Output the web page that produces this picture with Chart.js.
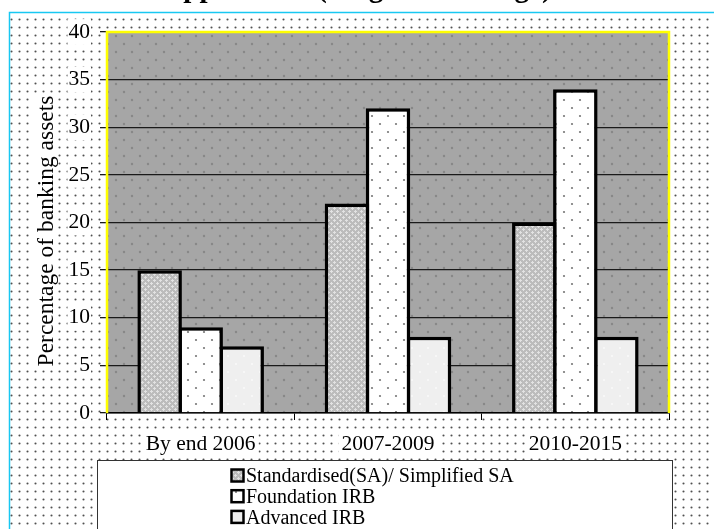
<!DOCTYPE html>
<html>
<head>
<meta charset="utf-8">
<script src="https://cdn.jsdelivr.net/npm/chart.js@4.4.1/dist/chart.umd.min.js"></script>
<style>
  html, body { margin: 0; padding: 0; background: #fff; }
  #wrap { width: 714px; height: 529px; position: relative; }
  canvas { display: block; }
</style>
</head>
<body>
<div id="wrap"><canvas id="c" width="714" height="529"></canvas></div>
<script>
// Share of banking assets under each Basel II approach, by period
const categories = ['By end 2006', '2007-2009', '2010-2015'];
const seriesNames = ['Standardised(SA)/ Simplified SA', 'Foundation IRB', 'Advanced IRB'];
const standardised = [15, 22, 20];
const foundation = [9, 32, 34];
const advanced = [7, 8, 8];
const yMin = 0, yMax = 40, yStep = 5;
const chartTitle = 'Approaches (weighted average)';
const yTitle = 'Percentage of banking assets';

const SERIF = '"Liberation Serif", "Times New Roman", serif';
const canvas = document.getElementById('c');
const ctx = canvas.getContext('2d');

// small repeating tiles used as fills
function makePattern(w, h, paint) {
  const t = document.createElement('canvas');
  t.width = w; t.height = h;
  paint(t.getContext('2d'), w, h);
  return ctx.createPattern(t, 'repeat');
}
function dot(g, x, y, r, col) {
  g.fillStyle = col; g.beginPath(); g.arc(x, y, r, 0, Math.PI * 2); g.fill();
}
const pageDots = makePattern(8, 8, (g) => {
  g.fillStyle = '#fff'; g.fillRect(0, 0, 8, 8);
  dot(g, 3.5, 3.5, 1.05, '#505050');
});
const plotDots = makePattern(16, 16, (g) => {
  g.fillStyle = '#a6a6a6'; g.fillRect(0, 0, 16, 16);
  dot(g, 4, 4, 1.2, '#888');
  dot(g, 12, 12, 1.2, '#888');
});
const saFill = makePattern(6, 6, (g) => {
  g.fillStyle = '#bcbcbc'; g.fillRect(0, 0, 6, 6);
  g.fillStyle = '#e2e2e2';
  g.fillRect(1, 0, 1, 3); g.fillRect(0, 1, 3, 1);
  g.fillRect(4, 3, 1, 3); g.fillRect(3, 4, 3, 1);
});
const foundationFill = makePattern(16, 16, (g) => {
  g.fillStyle = '#fff'; g.fillRect(0, 0, 16, 16);
  dot(g, 4, 4, 1.1, '#777');
  dot(g, 12, 12, 1.1, '#777');
});
const advancedFill = makePattern(16, 16, (g) => {
  g.fillStyle = '#efefef'; g.fillRect(0, 0, 16, 16);
  dot(g, 4, 4, 1.0, '#fafafa');
  dot(g, 12, 12, 1.0, '#fafafa');
});
const fills = [saFill, foundationFill, advancedFill];

// page backdrop, framed plot area and title
const backdrop = {
  id: 'backdrop',
  beforeDraw(chart) {
    const c = chart.ctx, a = chart.chartArea;
    c.save();
    c.fillStyle = '#fff';
    c.fillRect(0, 0, chart.width, chart.height);
    c.fillStyle = pageDots;
    c.fillRect(10, 13, chart.width - 10, chart.height - 13);
    c.strokeStyle = '#18c8f2';
    c.lineWidth = 1.5;
    c.beginPath();
    c.moveTo(9.5, chart.height); c.lineTo(9.5, 12.5); c.lineTo(chart.width, 12.5);
    c.stroke();
    c.fillStyle = plotDots;
    c.fillRect(a.left, a.top, a.right - a.left, a.bottom - a.top);
    c.fillStyle = '#000';
    c.font = 'bold 29px ' + SERIF;
    c.textAlign = 'center';
    c.textBaseline = 'alphabetic';
    c.fillText(chartTitle, chart.width / 2, -3);
    c.restore();
  },
  beforeDatasetsDraw(chart) {
    const c = chart.ctx, a = chart.chartArea;
    c.save();
    c.strokeStyle = '#ffff00';
    c.lineWidth = 2.5;
    c.beginPath();
    c.moveTo(a.left, a.bottom); c.lineTo(a.left, a.top);
    c.lineTo(a.right, a.top); c.lineTo(a.right, a.bottom);
    c.stroke();
    c.restore();
  },
  afterDraw(chart) {
    const c = chart.ctx;
    c.save();
    // vertical axis title on a white strip
    c.font = '23.5px ' + SERIF;
    const tw = c.measureText(yTitle).width;
    c.translate(46, 231);
    c.rotate(-Math.PI / 2);
    c.fillStyle = '#fff';
    c.fillRect(-tw / 2 - 2, -12, tw + 4, 24);
    c.fillStyle = '#000';
    c.textAlign = 'center';
    c.textBaseline = 'middle';
    c.fillText(yTitle, 0, 1);
    c.restore();

    // legend box listing the series vertically
    c.save();
    c.fillStyle = '#fff';
    c.fillRect(97.5, 460.5, 575, 80);
    c.strokeStyle = '#333';
    c.lineWidth = 1;
    c.strokeRect(97.5, 460.5, 575, 80);
    c.font = '20px ' + SERIF;
    c.textAlign = 'left';
    c.textBaseline = 'middle';
    chart.data.datasets.forEach((ds, i) => {
      const cy = 476 + i * 20.7;
      c.fillStyle = ds.backgroundColor;
      c.fillRect(231.5, cy - 6.5, 12, 12);
      c.strokeStyle = '#000';
      c.lineWidth = 2.5;
      c.strokeRect(231.5, cy - 6.5, 12, 12);
      c.fillStyle = '#000';
      c.fillText(ds.label, 246, cy + 1);
    });
    c.restore();
  }
};

const values = [standardised, foundation, advanced];
new Chart(canvas, {
  type: 'bar',
  data: {
    labels: categories,
    datasets: values.map((v, i) => ({
      label: seriesNames[i],
      data: v,
      backgroundColor: fills[i],
      borderColor: '#000',
      borderWidth: 3.5,
      borderSkipped: 'start',
      categoryPercentage: 0.657,
      barPercentage: 1.085
    }))
  },
  options: {
    responsive: false,
    animation: false,
    events: [],
    layout: { padding: { top: 32, right: 45, left: 0, bottom: 0 } },
    plugins: { legend: { display: false }, title: { display: false }, tooltip: { enabled: false } },
    scales: {
      x: {
        afterFit(s) { s.height = 116; },
        grid: { display: true, drawOnChartArea: false, drawTicks: true, tickLength: 7, color: '#000', offset: true },
        border: { display: true, color: '#000', width: 1.5 },
        ticks: {
          color: '#000', font: { family: SERIF, size: 21.5 }, padding: 11,
          showLabelBackdrop: true, backdropColor: '#fff', backdropPadding: { top: 1, bottom: 1, left: 3, right: 3 },
          maxRotation: 0
        }
      },
      y: {
        min: yMin, max: yMax,
        afterFit(s) { s.width = 107; },
        grid: { color: '#1a1a1a', lineWidth: 1.3, drawTicks: true, tickLength: 7 },
        border: { display: false },
        ticks: {
          stepSize: yStep, color: '#000', font: { family: SERIF, size: 21.5 }, padding: 10,
          showLabelBackdrop: true, backdropColor: '#fff', backdropPadding: { top: 0, bottom: 0, left: 1, right: 1 }
        }
      }
    }
  },
  plugins: [backdrop]
});
</script>
</body>
</html>
